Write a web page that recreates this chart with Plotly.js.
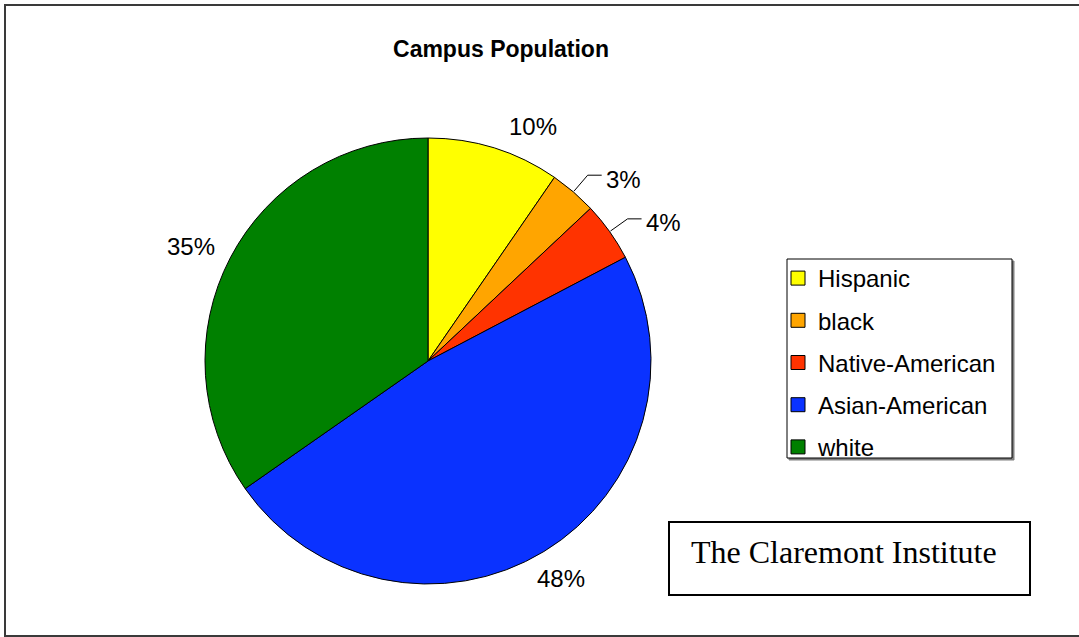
<!DOCTYPE html>
<html>
<head>
<meta charset="utf-8">
<script src="https://cdn.plot.ly/plotly-3.0.1.min.js"></script>
<style>html,body{margin:0;padding:0;background:#fff;overflow:hidden;}#chart{width:1079px;height:637px;}</style>
</head>
<body>
<div id="chart"></div>
<script>
// ---- data ----
const categories = ["Hispanic", "black", "Native-American", "Asian-American", "white"];
const shares = [9.6, 3.4, 4.3, 48.0, 34.7];
const colors = ["#FFFF00", "#FFA500", "#FF3300", "#0A32FF", "#008000"];
const chartTitle = "Campus Population";
const sourceNote = "The Claremont Institute";

// ---- layout constants ----
const W = 1079, H = 637;
const CX = 428, CY = 361, R = 223;
const LABEL_R = 245;
const px = x => x / W;
const py = y => 1 - y / H;
const FONT = "Liberation Sans, Arial, sans-serif";

const total = shares.reduce((a, b) => a + b, 0);
const annotations = [];
const shapes = [];

// outer frame (open on the right: it runs off the page)
shapes.push({type: "path", xref: "paper", yref: "paper",
  path: `M ${px(1079)} ${py(5)} L ${px(5)} ${py(5)} L ${px(5)} ${py(636)} L ${px(1079)} ${py(636)}`,
  line: {color: "#3a3a3a", width: 2}, layer: "below"});

// slice labels computed from the data
let cum = 0;
shares.forEach((v, i) => {
  const mid = (cum + v / 2) / total * 2 * Math.PI;
  cum += v;
  const s = Math.sin(mid), c = Math.cos(mid);
  const ex = CX + LABEL_R * s, ey = CY - LABEL_R * c;
  const pct = Math.round(v / total * 100) + "%";
  if (v / total < 0.05) {
    const sx = CX + (R + 1) * s, sy = CY - (R + 1) * c;
    const hx = ex + (s >= 0 ? 14 : -14);
    shapes.push({type: "path", xref: "paper", yref: "paper",
      path: `M ${px(sx)} ${py(sy)} L ${px(ex)} ${py(ey)} L ${px(hx)} ${py(ey)}`,
      line: {color: "#000", width: 1}});
    annotations.push({xref: "paper", yref: "paper", x: px(hx + (s >= 0 ? 2 : -2)), y: py(ey + 4),
      xanchor: s >= 0 ? "left" : "right", yanchor: "middle", showarrow: false, text: pct,
      font: {family: FONT, size: 24, color: "#000"}});
  } else {
    const anchor = c < 0 ? "center" : (s >= 0 ? "left" : "right");
    annotations.push({xref: "paper", yref: "paper", x: px(ex + 6), y: py(ey + (c < 0 ? 8 : -1)),
      xanchor: anchor, yanchor: "middle", showarrow: false, text: pct,
      font: {family: FONT, size: 24, color: "#000"}});
  }
});

// legend frame with shadow
shapes.push({type: "rect", xref: "paper", yref: "paper", x0: px(789), x1: px(1014), y0: py(460), y1: py(261),
  line: {color: "#808080", width: 1}, fillcolor: "#808080"});
shapes.push({type: "rect", xref: "paper", yref: "paper", x0: px(787), x1: px(1012), y0: py(458), y1: py(259),
  line: {color: "#000", width: 1}, fillcolor: "#fff"});

// source box
shapes.push({type: "rect", xref: "paper", yref: "paper", x0: px(669), x1: px(1030), y0: py(595), y1: py(522),
  line: {color: "#000", width: 2}, fillcolor: "#fff"});
annotations.push({xref: "paper", yref: "paper", x: px(689), y: py(552), xanchor: "left", yanchor: "middle",
  showarrow: false, text: sourceNote, font: {family: "Liberation Serif, Times New Roman, serif", size: 32, color: "#000"}});

const traces = [{
  type: "pie",
  labels: categories,
  values: shares,
  sort: false,
  direction: "clockwise",
  rotation: 0,
  marker: {colors: colors, line: {color: "#000", width: 1}},
  textinfo: "none",
  hoverinfo: "label+percent",
  showlegend: false,
  domain: {x: [px(CX - R), px(CX + R)], y: [py(CY + R), py(CY - R)]}
}];

// legend entries (one per category)
categories.forEach((name, i) => {
  traces.push({
    type: "scatter", mode: "markers", x: [null], y: [null], name: name, legendgroup: name,
    marker: {symbol: "square", size: 14, color: colors[i], line: {color: "#000", width: 1}},
    hoverinfo: "skip"
  });
});

const layout = {
  width: W, height: H,
  margin: {l: 0, r: 0, t: 0, b: 0},
  paper_bgcolor: "#fff", plot_bgcolor: "rgba(0,0,0,0)",
  title: {text: chartTitle, x: px(501), xanchor: "center", y: py(49), yanchor: "middle",
    font: {family: FONT, size: 23, color: "#000", weight: "bold"}},
  xaxis: {visible: false, domain: [0, 0.01]},
  yaxis: {visible: false, domain: [0, 0.01]},
  showlegend: true,
  legend: {x: px(778), y: py(256), xanchor: "left", yanchor: "top", bgcolor: "rgba(0,0,0,0)",
    borderwidth: 0, font: {family: FONT, size: 24, color: "#000"}, tracegroupgap: 8, traceorder: "grouped",
    itemclick: false, itemdoubleclick: false},
  shapes: shapes,
  annotations: annotations
};

Plotly.newPlot("chart", traces, layout, {displayModeBar: false, staticPlot: true});
</script>
</body>
</html>
